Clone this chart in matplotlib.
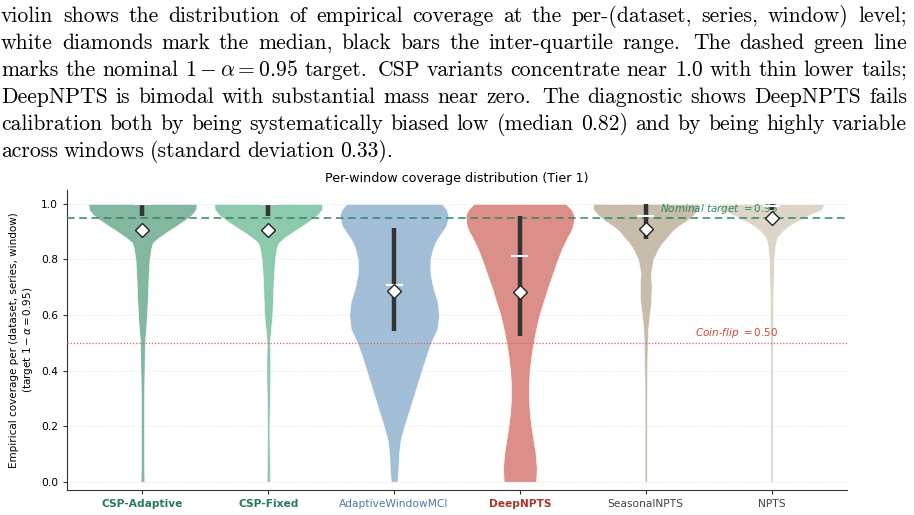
import matplotlib.pyplot as plt
import numpy as np

plt.rcParams['mathtext.fontset'] = 'dejavusans'

# caption lines above the chart (last one is not justified)
caption_lines = [
    "violin shows the distribution of empirical coverage at the per-(dataset, series, window) level;",
    "white diamonds mark the median, black bars the inter-quartile range. The dashed green line",
    r"marks the nominal $1-\alpha=0.95$ target. CSP variants concentrate near 1.0 with thin lower tails;",
    "DeepNPTS is bimodal with substantial mass near zero. The diagnostic shows DeepNPTS fails",
    "calibration both by being systematically biased low (median 0.82) and by being highly variable",
    "across windows (standard deviation 0.33).",
]

methods = ["CSP-Adaptive", "CSP-Fixed", "AdaptiveWindowMCI", "DeepNPTS", "SeasonalNPTS", "NPTS"]
colors = ["#84b7a0", "#8dc9ad", "#a3bfd8", "#dc8e88", "#c8bcab", "#dcd5c8"]
label_colors = ["#2a7b57", "#2a7b57", "#4d79a7", "#a8372b", "#444444", "#444444"]
label_bold = [True, True, False, True, False, False]

# coverage levels and relative violin widths
levels = [0.0, 0.05, 0.1, 0.15, 0.2, 0.25, 0.3, 0.35, 0.4, 0.45, 0.5, 0.55, 0.6,
          0.65, 0.7, 0.75, 0.8, 0.84, 0.86, 0.88, 0.9, 0.92, 0.94, 0.96, 0.98, 1.0]
dens_csp_adaptive = [0.035, 0.03, 0.03, 0.028, 0.028, 0.028, 0.03, 0.033, 0.037, 0.04, 0.044, 0.065, 0.083,
                     0.095, 0.105, 0.115, 0.13, 0.16, 0.19, 0.31, 0.46, 0.62, 0.77, 0.91, 0.99, 1.0]
dens_csp_fixed = [0.031, 0.028, 0.025, 0.022, 0.02, 0.024, 0.028, 0.032, 0.035, 0.033, 0.028, 0.05, 0.074,
                  0.085, 0.093, 0.105, 0.123, 0.155, 0.19, 0.31, 0.46, 0.62, 0.77, 0.91, 0.99, 1.0]
dens_awmci = [0.06, 0.08, 0.09, 0.12, 0.19, 0.27, 0.35, 0.43, 0.51, 0.59, 0.68, 0.8, 0.83,
              0.8, 0.72, 0.67, 0.67, 0.72, 0.76, 0.82, 0.89, 0.96, 0.99, 1.0, 0.97, 0.88]
dens_deepnpts = [0.30, 0.31, 0.29, 0.25, 0.21, 0.18, 0.165, 0.165, 0.18, 0.21, 0.25, 0.30, 0.36,
                 0.44, 0.52, 0.61, 0.70, 0.78, 0.83, 0.88, 0.94, 0.98, 1.0, 1.0, 0.95, 0.85]
dens_seasonal = [0.02, 0.02, 0.02, 0.02, 0.02, 0.02, 0.02, 0.022, 0.025, 0.03, 0.035, 0.045, 0.07,
                 0.1, 0.11, 0.095, 0.14, 0.24, 0.31, 0.4, 0.48, 0.6, 0.76, 0.88, 0.97, 0.98]
dens_npts = [0.02, 0.02, 0.02, 0.02, 0.02, 0.02, 0.02, 0.02, 0.02, 0.02, 0.022, 0.025, 0.03,
             0.03, 0.035, 0.04, 0.045, 0.065, 0.08, 0.11, 0.2, 0.32, 0.5, 0.7, 0.93, 0.97]

q1 = [0.957, 0.957, 0.541, 0.524, 0.873, 0.978]
q3 = [1.0, 1.0, 0.915, 0.956, 1.0, 1.0]
medians = [1.0, 1.0, 0.707, 0.814, 0.958, 0.993]
means = [0.906, 0.906, 0.688, 0.683, 0.908, 0.948]

nominal = 0.95
coin_flip = 0.50

fig = plt.figure(figsize=(9.14, 5.15), dpi=100)
W, H = 914, 515

# justified caption
renderer = fig.canvas.get_renderer()
left_px, right_px = 1, 907
baselines = [22, 49, 76, 103, 130, 157]
for i, line in enumerate(caption_lines):
    words = line.split(' ')
    ts = [fig.text(0, 1 - baselines[i] / H, w, family='cmr10', fontsize=15.6,
                   math_fontfamily='cm', va='baseline', ha='left') for w in words]
    widths = [t.get_window_extent(renderer).width for t in ts]
    weights = [1.45 if words[k].endswith('.') else 1.0 for k in range(len(words) - 1)]
    if i < len(caption_lines) - 1:
        gap = (right_px - left_px - sum(widths)) / sum(weights)
    else:
        gap = 5.5
    x = left_px
    for k, t in enumerate(ts):
        t.set_x(x / W)
        x += widths[k]
        if k < len(weights):
            x += gap * weights[k]

ax = fig.add_axes([67 / W, 25 / H, 780 / W, 300 / H])

dens_all = [dens_csp_adaptive, dens_csp_fixed, dens_awmci, dens_deepnpts, dens_seasonal, dens_npts]
half = 0.43
lv = np.array(levels)
for i, d in enumerate(dens_all):
    d = np.array(d)
    ax.fill_betweenx(lv, i - half * d, i + half * d, facecolor=colors[i],
                     edgecolor='white', linewidth=0.4, zorder=2)

# reference lines
ax.axhline(nominal, color='#2e8a63', linestyle=(0, (5, 3)), linewidth=1.1, zorder=3)
ax.axhline(coin_flip, color='#d9625a', linestyle=(0, (1, 1.5)), linewidth=0.9, zorder=3)
ax.text(5.05, nominal + 0.006, r"Nominal target $= 0.95$", color='#2e8a63', fontsize=7.5,
        style='italic', ha='right', va='bottom', zorder=4)
ax.text(5.05, coin_flip + 0.01, r"Coin-flip $= 0.50$", color='#d0463c', fontsize=7.5,
        style='italic', ha='right', va='bottom', zorder=4)

# IQR bars, medians, means
for i in range(len(methods)):
    ax.plot([i, i], [q1[i], q3[i]], color='#333535', linewidth=3.2, solid_capstyle='butt', zorder=5)
    ax.plot([i - 0.06, i + 0.06], [medians[i], medians[i]], color='white', linewidth=1.5, zorder=6)
    ax.plot(i, means[i], marker='D', markersize=7.5, markerfacecolor='white',
            markeredgecolor='#222222', markeredgewidth=1.0, zorder=7)

ax.set_xlim(-0.6, 5.6)
ax.set_ylim(-0.03, 1.05)
ax.set_yticks([0.0, 0.2, 0.4, 0.6, 0.8, 1.0])
ax.set_xticks(range(len(methods)))
ax.set_xticklabels(methods)
for lab, c, b in zip(ax.get_xticklabels(), label_colors, label_bold):
    lab.set_color(c)
    lab.set_fontweight('bold' if b else 'normal')
ax.tick_params(axis='both', labelsize=7.7, length=3, color='#333333')
ax.grid(axis='y', linestyle=(0, (1, 2)), color='#dddddd', linewidth=0.7, zorder=0)
ax.set_axisbelow(True)
for s in ['top', 'right']:
    ax.spines[s].set_visible(False)
for s in ['left', 'bottom']:
    ax.spines[s].set_color('#333333')
ax.set_ylabel("Empirical coverage per (dataset, series, window)\n" + r"(target $1-\alpha=0.95$)",
              fontsize=7.5)
ax.set_title("Per-window coverage distribution (Tier 1)", fontsize=9.2)

fig.savefig("out.png", dpi=100)
